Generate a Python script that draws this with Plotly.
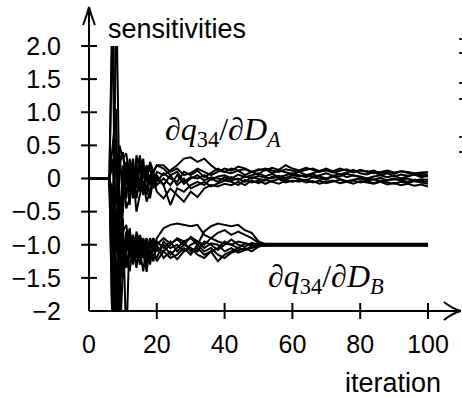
import plotly.graph_objects as go

# ---------------- data ----------------
x_a = [0, 6, 7, 8, 9, 10, 11, 12, 13, 14, 15, 16, 17, 18, 19, 20,
       22, 24, 26, 28, 30, 32, 34, 36, 38, 40,
       42, 44, 46, 48, 50, 52, 54, 56, 58, 60,
       62, 64, 66, 68, 70, 72, 74, 76, 78, 80,
       82, 84, 86, 88, 90, 92, 94, 96, 98, 100]

a1 = [0, 0, 3.0, -2.5, 0.3, 0.35, 0.1, -0.2, 0.15, 0.05, 0.2, -0.1, 0.05, 0.15, -0.05, 0.1,
      0.05, 0.12, 0.2, 0.3, 0.32, 0.25, 0.3, 0.2, 0.12, 0.1,
      0.15, 0.12, 0.14, 0.1, 0.13, 0.15, 0.12, 0.1, 0.14, 0.12,
      0.1, 0.13, 0.15, 0.11, 0.12, 0.09, 0.12, 0.14, 0.1, 0.12,
      0.11, 0.08, 0.1, 0.12, 0.09, 0.11, 0.1, 0.08, 0.09, 0.1]
a2 = [0, 0, -2.5, 3.0, -0.4, -0.2, 0.25, 0.1, -0.3, 0.2, -0.1, 0.15, -0.2, 0.05, 0.1, -0.05,
      0.08, 0.0, -0.05, 0.1, 0.05, 0.12, 0.02, 0.08, 0.15, 0.1,
      0.08, 0.12, 0.05, 0.1, 0.06, 0.14, 0.08, 0.12, 0.1, 0.07,
      0.1, 0.05, 0.08, 0.12, 0.15, 0.1, 0.06, 0.09, 0.13, 0.08,
      0.06, 0.1, 0.05, 0.08, 0.03, 0.06, 0.04, 0.07, 0.05, 0.03]
a3 = [0, 0, 0.5, 1.05, -2.5, 0.2, -0.3, 0.3, 0.1, -0.15, 0.35, 0.0, 0.2, -0.1, 0.1, 0.2,
      0.15, 0.05, 0.1, -0.05, 0.02, 0.0, 0.05, -0.02, 0.03, 0.05,
      0.0, 0.06, 0.02, 0.05, 0.08, 0.03, 0.07, 0.02, 0.05, 0.08,
      0.05, 0.02, 0.06, 0.03, 0.0, 0.04, 0.07, 0.02, 0.05, 0.03,
      0.0, 0.03, 0.05, 0.02, 0.04, 0.0, 0.03, 0.06, 0.02, 0.04]
a4 = [0, 0, -0.6, -2.5, 0.4, -0.3, 0.1, -0.4, 0.2, 0.0, -0.2, 0.3, -0.25, 0.05, -0.1, 0.0,
      -0.1, -0.4, -0.15, -0.2, -0.1, -0.05, -0.1, 0.0, -0.05, 0.02,
      -0.03, 0.0, -0.05, 0.02, 0.0, -0.03, 0.03, 0.0, -0.02, 0.02,
      0.0, -0.03, 0.02, 0.0, -0.02, 0.03, 0.0, -0.04, -0.02, 0.0,
      -0.03, -0.01, -0.04, -0.02, 0.0, -0.03, -0.05, -0.02, -0.04, -0.05]
a5 = [0, 0, 0.3, -0.8, 0.2, 0.4, -0.1, 0.2, -0.2, 0.35, 0.1, -0.25, 0.15, 0.2, -0.15, 0.05,
      -0.1, 0.05, -0.1, 0.0, -0.15, -0.1, -0.05, -0.12, -0.08, -0.03,
      -0.05, -0.1, -0.02, -0.06, -0.03, -0.08, -0.04, -0.01, -0.06, -0.03,
      -0.05, -0.02, -0.06, -0.03, -0.07, -0.04, -0.02, -0.05, -0.08, -0.04,
      -0.06, -0.08, -0.05, -0.09, -0.07, -0.1, -0.08, -0.11, -0.09, -0.12]
a6 = [0, 0, -0.3, 0.4, -1.2, -0.5, 0.2, -0.1, 0.3, -0.3, 0.0, -0.15, 0.1, -0.3, 0.0, -0.2,
      -0.3, -0.15, -0.25, -0.35, -0.2, -0.28, -0.15, -0.1, -0.12, -0.08,
      -0.1, -0.05, -0.1, -0.03, -0.07, -0.02, -0.05, -0.08, -0.03, -0.05,
      -0.02, -0.06, -0.04, -0.08, -0.05, -0.03, -0.07, -0.05, -0.03, -0.06,
      -0.04, -0.07, -0.03, -0.06, -0.08, -0.05, -0.07, -0.04, -0.06, -0.08]
a7 = [0, 0, 0.2, -0.4, 0.5, 0.3, 0.38, 0.0, -0.1, 0.25, 0.3, 0.15, -0.05, 0.25, 0.1, 0.2,
      0.2, 0.1, 0.15, 0.05, 0.08, 0.15, 0.1, 0.05, 0.1, 0.15,
      0.12, 0.18, 0.15, 0.1, 0.14, 0.12, 0.16, 0.13, 0.2, 0.15,
      0.12, 0.16, 0.13, 0.1, 0.14, 0.11, 0.15, 0.12, 0.09, 0.13,
      0.1, 0.12, 0.08, 0.1, 0.07, 0.11, 0.09, 0.06, 0.08, 0.06]
a8 = [0, 0, -0.2, 0.6, -0.7, 0.1, -0.45, -0.3, 0.05, -0.5, -0.25, -0.05, -0.35, -0.2, 0.05, -0.1,
      0.0, -0.1, 0.05, -0.08, 0.0, 0.05, -0.03, 0.02, 0.0, -0.02,
      0.02, -0.02, 0.03, 0.0, 0.04, 0.01, 0.0, 0.04, 0.01, 0.05,
      0.03, 0.06, 0.02, 0.05, 0.08, 0.04, 0.03, 0.07, 0.04, 0.02,
      0.0, -0.02, 0.01, -0.03, -0.01, -0.02, 0.0, -0.03, -0.01, -0.02]

x_b = [0, 6, 7, 8, 9, 10, 11, 12, 13, 14, 15, 16, 17, 18, 19, 20,
       22, 24, 26, 28, 30, 32, 34, 36, 38, 40, 42, 44, 46, 48, 50, 52, 100]

b1 = [0, 0, -2.5, -0.5, -1.2, -0.8, -0.7, -1.1, -0.9, -1.2, -0.85, -1.0, -1.3, -0.95, -1.1, -0.9,
      -0.75, -0.7, -0.68, -0.7, -0.72, -0.7, -0.85, -0.9, -0.95, -0.98, -1.0, -0.95, -0.98, -1.0, -0.985, -0.985,
      -0.985]
b2 = [0, 0, 2.5, -2.5, -0.9, -1.3, -1.0, -0.75, -1.2, -0.9, -1.1, -1.4, -1.0, -1.15, -0.95, -1.05,
      -1.1, -1.0, -0.9, -0.95, -0.9, -1.0, -0.8, -0.72, -0.68, -0.7, -0.72, -0.7, -0.78, -0.82, -0.95, -0.99,
      -0.99]
b3 = [0, 0, -0.5, -2.5, -0.6, -1.5, -0.9, -1.2, -1.0, -1.35, -0.9, -1.1, -1.41, -1.0, -0.9, -1.1,
      -1.0, -1.15, -1.05, -0.95, -1.1, -1.05, -1.15, -1.1, -1.05, -0.95, -1.0, -1.05, -0.98, -1.02, -1.0, -1.0,
      -1.0]
b4 = [0, 0, -1.5, -0.8, -1.6, -0.6, -2.5, -0.8, -1.1, -0.95, -1.2, -0.9, -1.05, -1.3, -1.0, -0.95,
      -1.05, -0.95, -1.1, -1.0, -1.05, -1.1, -0.95, -1.0, -1.08, -1.0, -0.92, -1.0, -1.03, -0.97, -1.0, -1.005,
      -1.005]
b5 = [0, 0, -1.0, -1.3, -2.5, -1.4, -1.1, -0.9, -1.3, -1.0, -1.15, -0.95, -1.2, -1.1, -1.25, -1.0,
      -1.2, -1.1, -1.22, -1.1, -1.05, -1.15, -1.2, -1.1, -1.25, -1.15, -1.1, -1.05, -1.08, -1.02, -1.01, -1.01,
      -1.01]
b6 = [0, 0, -0.8, -1.5, -1.0, -1.1, -1.35, -1.0, -0.85, -1.05, -1.3, -1.05, -0.9, -1.2, -1.15, -1.2,
      -0.95, -1.05, -1.0, -1.1, -1.0, -0.95, -1.05, -0.98, -1.0, -1.1, -1.05, -1.12, -1.08, -1.05, -1.02, -1.015,
      -1.015]
b7 = [0, 0, -1.2, -0.6, -1.4, -0.9, -1.2, -1.4, -1.0, -1.1, -0.95, -1.2, -1.1, -0.9, -1.05, -1.25,
      -1.1, -1.2, -1.15, -1.05, -1.15, -1.0, -1.1, -1.05, -1.15, -1.2, -1.12, -1.08, -1.05, -1.1, -1.03, -1.0,
      -1.0]
b8 = [0, 0, -0.4, -1.1, -1.0, -1.2, -0.8, -1.05, -1.25, -0.8, -1.0, -1.15, -0.95, -1.05, -0.9, -1.0,
      -0.9, -0.98, -0.92, -1.0, -0.88, -0.95, -1.0, -0.9, -0.82, -0.78, -0.85, -0.8, -0.85, -0.9, -0.97, -0.995,
      -0.995]

series_a = [a1, a2, a3, a4, a5, a6, a7, a8]
series_b = [b1, b2, b3, b4, b5, b6, b7, b8]

x_tickvals = [0, 20, 40, 60, 80, 100]
x_ticktext = ["0", "20", "40", "60", "80", "100"]
y_tickvals = [2.0, 1.5, 1.0, 0.5, 0, -0.5, -1.0, -1.5, -2]
y_ticktext = ["2.0", "1.5", "1.0", "0.5", "0", "\u22120.5", "\u22121.0", "\u22121.5", "\u22122"]

x_title = "iteration"
y_title = "sensitivities"
label_a = "\u2202<i>q</i><sub>34</sub>/\u2202<i>D</i><sub><i>A</i></sub>"
label_b = "\u2202<i>q</i><sub>34</sub>/\u2202<i>D</i><sub><i>B</i></sub>"

# ---------------- layout geometry ----------------
W, H = 462, 398
L, R, T, B = 87, 34, 46, 87
PW, PH = W - L - R, H - T - B
XMIN, XMAX, YMIN, YMAX = 0, 100, -2, 2


def fx(px):
    return (px - L) / PW


def fy(py):
    return (H - B - py) / PH


def fyv(v):
    return (v - YMIN) / (YMAX - YMIN)


def fxv(v):
    return (v - XMIN) / (XMAX - XMIN)


fig = go.Figure()
for s in series_a:
    fig.add_trace(go.Scatter(x=x_a, y=s, mode="lines",
                             line=dict(color="black", width=2), showlegend=False))
for s in series_b:
    fig.add_trace(go.Scatter(x=x_b, y=s, mode="lines",
                             line=dict(color="black", width=2), showlegend=False))

shapes = []
lw = 2
# axes
shapes.append(dict(type="line", xref="paper", yref="paper", x0=0, x1=0, y0=0, y1=fy(10),
                   line=dict(color="black", width=lw)))
shapes.append(dict(type="line", xref="paper", yref="paper", x0=0, x1=fx(458), y0=0, y1=0,
                   line=dict(color="black", width=lw)))


def pth(pts):
    (a, b), (c, d), (e, f), (g, h), (i, j) = pts
    return (f"M {fx(a)},{fy(b)} Q {fx(c)},{fy(d)} {fx(e)},{fy(f)} "
            f"Q {fx(g)},{fy(h)} {fx(i)},{fy(j)}")


shapes.append(dict(type="path", xref="paper", yref="paper",
                   path=pth([(444, 302), (453, 309), (461, 311), (453, 313), (444, 320)]),
                   line=dict(color="black", width=lw)))
shapes.append(dict(type="path", xref="paper", yref="paper",
                   path=pth([(81, 25), (85, 15), (87, 7), (89, 15), (93, 25)]),
                   line=dict(color="black", width=lw)))
# crossing ticks
for v in y_tickvals:
    if v == YMIN:
        continue
    shapes.append(dict(type="line", xref="paper", yref="paper",
                       x0=-8 / PW, x1=8 / PW, y0=fyv(v), y1=fyv(v),
                       line=dict(color="black", width=lw)))
for v in x_tickvals:
    if v == XMIN:
        continue
    shapes.append(dict(type="line", xref="paper", yref="paper",
                       x0=fxv(v), x1=fxv(v), y0=-8 / PH, y1=8 / PH,
                       line=dict(color="black", width=lw)))
# small marks at the right edge (neighbouring figure remnants)
for py in [39, 53, 83, 99, 137, 152]:
    shapes.append(dict(type="rect", xref="paper", yref="paper",
                       x0=fx(459.5), x1=fx(462), y0=fy(py + 1), y1=fy(py - 1),
                       fillcolor="black", line=dict(width=0)))

font_txt = "Liberation Sans"
annotations = [
    dict(text=y_title, xref="paper", yref="paper", x=fx(104), y=fy(29),
         xanchor="left", yanchor="middle", showarrow=False,
         font=dict(family=font_txt, size=27, color="black")),
    dict(text=x_title, xref="paper", yref="paper", x=fx(393), y=fy(383),
         xanchor="center", yanchor="middle", showarrow=False,
         font=dict(family=font_txt, size=27, color="black")),
    dict(text=label_a, xref="paper", yref="paper", x=fx(222), y=fy(131),
         xanchor="center", yanchor="middle", showarrow=False,
         font=dict(family="Liberation Serif", size=32, color="black")),
    dict(text=label_b, xref="paper", yref="paper", x=fx(325), y=fy(278),
         xanchor="center", yanchor="middle", showarrow=False,
         font=dict(family="Liberation Serif", size=32, color="black")),
]

fig.update_layout(
    width=W, height=H,
    margin=dict(l=L, r=R, t=T, b=B, pad=0),
    paper_bgcolor="white", plot_bgcolor="white",
    shapes=shapes, annotations=annotations,
    xaxis=dict(range=[XMIN, XMAX], showgrid=False, zeroline=False, showline=False,
               tickmode="array", tickvals=x_tickvals, ticktext=x_ticktext,
               ticks="outside", ticklen=11, tickcolor="rgba(0,0,0,0)",
               tickfont=dict(family=font_txt, size=25, color="black")),
    yaxis=dict(range=[YMIN, YMAX], showgrid=False, zeroline=False, showline=False,
               tickmode="array", tickvals=y_tickvals, ticktext=y_ticktext,
               ticks="outside", ticklen=22, tickcolor="rgba(0,0,0,0)",
               tickfont=dict(family=font_txt, size=25, color="black")),
)

fig.write_html("out.html")
